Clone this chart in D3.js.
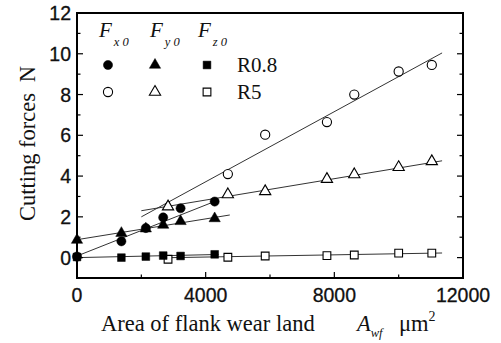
<!DOCTYPE html>
<html>
<head>
<meta charset="utf-8">
<script src="https://cdn.jsdelivr.net/npm/d3@7/dist/d3.min.js"></script>
<style>
  html, body { margin: 0; padding: 0; background: #fff; }
  svg { display: block; }
  .tick-label { font-family: "Liberation Sans", Arial, sans-serif; font-size: 19.5px; fill: #111; stroke: #111; stroke-width: 0.3px; }
  .serif { font-family: "Liberation Serif", "Times New Roman", serif; fill: #111; }
</style>
</head>
<body>
<svg id="chart" width="501" height="343"></svg>
<script>
// Cutting force components vs. flank wear land area, for two nose radii
const xTicks = [0, 4000, 8000, 12000];
const yTicks = [0, 2, 4, 6, 8, 10, 12];

// R0.8 tool (filled markers)
const areaR08 = [0, 1380, 2140, 2680, 3220, 4280];
const fx0R08  = [0.05, 0.80, 1.45, 1.97, 2.42, 2.75];
const fy0R08  = [0.86, 1.20, 1.42, 1.60, 1.78, 1.92];
const fz0R08  = [0.03, 0.00, 0.05, 0.10, 0.08, 0.16];

// R5 tool (open markers)
const areaR5x = [4690, 5850, 7770, 8620, 10000, 11030];
const fx0R5   = [4.10, 6.03, 6.65, 8.00, 9.13, 9.45];
const areaR5  = [2830, 4690, 5850, 7770, 8620, 10000, 11030];
const fy0R5   = [2.50, 3.10, 3.25, 3.85, 4.08, 4.43, 4.72];
const fz0R5   = [-0.08, 0.02, 0.08, 0.10, 0.13, 0.22, 0.22];

// Linear fits: [xStart, xEnd, intercept, slope]
const fitFx0R08 = [0, 4400, 0.08, 0.000625];
const fitFy0R08 = [0, 4750, 0.88, 0.000255];
const fitFz0R08 = [0, 4400, 0.00, 0.000035];
const fitFx0R5  = [2000, 11350, 0.28, 0.00086];
const fitFy0R5  = [2000, 11350, 1.776, 0.000262];
const fitFz0R5  = [2800, 11350, -0.08, 0.000027];

const svg = d3.select("#chart");
const x = d3.scaleLinear().domain([0, 12000]).range([77, 463]);
const y = d3.scaleLinear().domain([-1, 12]).range([278, 13]);

// fit lines
const fits = [fitFx0R08, fitFy0R08, fitFz0R08, fitFx0R5, fitFy0R5, fitFz0R5];
const line = d3.line().x(d => x(d[0])).y(d => y(d[1]));
svg.append("g").selectAll("path").data(fits).join("path")
  .attr("d", f => line([[f[0], f[2] + f[3] * f[0]], [f[1], f[2] + f[3] * f[1]]]))
  .attr("fill", "none").attr("stroke", "#333").attr("stroke-width", 1);

// marker shapes
const sym = {
  circle: d3.symbol().type(d3.symbolCircle).size(66),
  triangle: d3.symbol().type(d3.symbolTriangle).size(55),
  square: d3.symbol().type(d3.symbolSquare).size(60)
};
function markers(xs, ys, shape, filled) {
  svg.append("g").selectAll("path").data(xs.map((v, i) => [v, ys[i]])).join("path")
    .attr("d", sym[shape])
    .attr("transform", d => `translate(${x(d[0])},${y(d[1])})`)
    .attr("fill", filled ? "#000" : "#fff")
    .attr("stroke", "#000").attr("stroke-width", filled ? 0.5 : 1.1);
}
markers(areaR5, fz0R5, "square", false);
markers(areaR5, fy0R5, "triangle", false);
markers(areaR5x, fx0R5, "circle", false);
markers(areaR08, fz0R08, "square", true);
markers(areaR08, fy0R08, "triangle", true);
markers(areaR08, fx0R08, "circle", true);

// frame
svg.append("rect")
  .attr("x", x(0)).attr("y", y(12))
  .attr("width", x(12000) - x(0)).attr("height", y(-1) - y(12))
  .attr("fill", "none").attr("stroke", "#000").attr("stroke-width", 2);

// inward ticks
const xMinor = d3.range(0, 12001, 2000);
const yMinor = d3.range(-1, 12.01, 1);
const tg = svg.append("g").attr("stroke", "#000").attr("stroke-width", 1.2);
xMinor.forEach(v => {
  const len = xTicks.includes(v) ? 6 : 3.5;
  tg.append("line").attr("x1", x(v)).attr("x2", x(v)).attr("y1", y(-1)).attr("y2", y(-1) - len);
});
yMinor.forEach(v => {
  const len = yTicks.includes(v) ? 6 : 3.5;
  tg.append("line").attr("x1", x(0)).attr("x2", x(0) + len).attr("y1", y(v)).attr("y2", y(v));
  tg.append("line").attr("x1", x(12000)).attr("x2", x(12000) - len).attr("y1", y(v)).attr("y2", y(v));
});

// tick labels
svg.append("g").selectAll("text").data(xTicks).join("text")
  .attr("class", "tick-label")
  .attr("x", d => x(d)).attr("y", 302)
  .attr("text-anchor", "middle").text(d => d);
svg.append("g").selectAll("text").data(yTicks).join("text")
  .attr("class", "tick-label")
  .attr("x", 71).attr("y", d => y(d) + 7)
  .attr("text-anchor", "end").text(d => d);

// axis titles
svg.append("text").attr("class", "serif").attr("font-size", 22.5)
  .attr("x", 101).attr("y", 331).text("Area of flank wear land");
const at = svg.append("text").attr("class", "serif").attr("font-size", 22.5)
  .attr("x", 357).attr("y", 331);
at.append("tspan").attr("font-style", "italic").text("A");
at.append("tspan").attr("font-style", "italic").attr("font-size", 12.5).attr("dy", 6).text("wf");
at.append("tspan").attr("x", 399).attr("dy", -6).text("\u03bcm");
at.append("tspan").attr("font-size", 14).attr("dy", -10).text("2");

svg.append("text").attr("class", "serif").attr("font-size", 22.5)
  .attr("transform", "translate(35,157) rotate(-90)")
  .attr("text-anchor", "middle").text("Cutting forces");
svg.append("text").attr("class", "serif").attr("font-size", 22.5)
  .attr("transform", "translate(35,74) rotate(-90)")
  .attr("text-anchor", "middle").text("N");

// legend
const legHead = [["x", 99], ["y", 150], ["z", 198]];
legHead.forEach(([s, lx]) => {
  const t = svg.append("text").attr("class", "serif").attr("font-size", 21)
    .attr("x", lx).attr("y", 37);
  t.append("tspan").attr("font-style", "italic").text("F");
  t.append("tspan").attr("font-style", "italic").attr("font-size", 12.5)
    .attr("dx", 2).attr("dy", 9).attr("letter-spacing", 3).text(s + "0");
});
const legX = [108, 155, 207];
const legRows = [[65, true, "R0.8"], [92, false, "R5"]];
const shapes = ["circle", "triangle", "square"];
legRows.forEach(([ly, filled, label]) => {
  shapes.forEach((s, i) => {
    svg.append("path").attr("d", sym[s])
      .attr("transform", `translate(${legX[i]},${ly})`)
      .attr("fill", filled ? "#000" : "#fff")
      .attr("stroke", "#000").attr("stroke-width", filled ? 0.5 : 1.1);
  });
  svg.append("text").attr("class", "serif").attr("font-size", 21)
    .attr("x", 237).attr("y", ly + 7).text(label);
});
</script>
</body>
</html>
